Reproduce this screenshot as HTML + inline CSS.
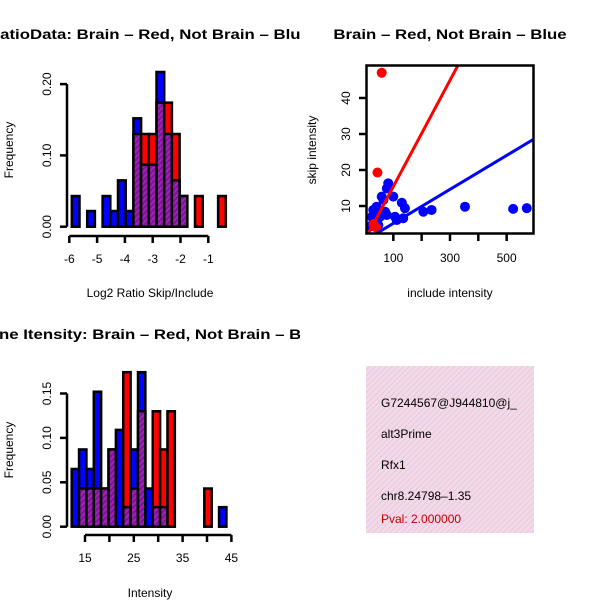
<!DOCTYPE html>
<html><head><meta charset="utf-8"><style>body{margin:0;background:#fff}svg{display:block;font-family:"Liberation Sans",sans-serif}</style></head>
<body>
<svg id="c" width="600" height="600" xmlns="http://www.w3.org/2000/svg">
<defs>
<pattern id="hp" width="4" height="4" patternUnits="userSpaceOnUse" patternTransform="rotate(45)"><rect width="4" height="4" fill="#a022b8"/><rect width="2" height="4" fill="#7a1690"/></pattern>
<pattern id="pk" width="4" height="4" patternUnits="userSpaceOnUse" patternTransform="rotate(45)"><rect width="4" height="4" fill="#f7d6f0"/><rect width="1" height="4" fill="#dcd2c8"/></pattern>
<clipPath id="sc"><rect x="366" y="65" width="167" height="168"/></clipPath>
<clipPath id="lc"><rect x="0" y="0" width="300" height="600"/></clipPath>
</defs>
<g id="g"></g>
</svg>
<script>
// Histogram 1 (log2 ratio)
const h1BinStart = -5.91, h1BinWidth = 0.277;
const h1Blue = [0.043,0,0.022,0,0.043,0.022,0.065,0.022,0.152,0.087,0.087,0.217,0.13,0.065,0.043,0,0,0,0,0];
const h1Red  = [0,0,0,0,0,0,0,0,0.13,0.13,0.13,0.174,0.174,0.13,0.043,0,0.043,0,0,0.043];
const h1XTicks = [-6,-5,-4,-3,-2,-1];
const h1YTicks = [0,0.1,0.2];
const h1YLabels = ["0.00","0.10","0.20"];
// Histogram 2 (intensity)
const h2BinStart = 12.27, h2BinWidth = 1.51;
const h2Blue = [0.065,0.087,0.065,0.152,0.043,0.087,0.109,0.022,0.087,0.174,0.043,0.022,0.022,0,0,0,0,0,0,0,0.022];
const h2Red  = [0,0.043,0.043,0.043,0.043,0.087,0,0.174,0.043,0.13,0,0.13,0.087,0.13,0,0,0,0,0.043,0,0];
const h2XTicks = [15,20,25,30,35,40,45];
const h2XLabels = ["15","","25","","35","","45"];
const h2YTicks = [0,0.05,0.1,0.15];
const h2YLabels = ["0.00","0.05","0.10","0.15"];
// Scatter
const blueInclude = [82,77,59,65,100,130,141,206,235,353,523,571,29,35,41,24,53,77,106,135,112,29,47,71,18];
const blueSkip    = [16.3,14.9,12.6,11.7,12.6,10.9,9.4,8.4,8.9,9.8,9.2,9.4,8.9,8.0,9.8,7.0,7.0,7.5,7.0,6.6,6.1,5.2,4.7,8.4,4.3];
const redInclude = [59,44,30,40];
const redSkip    = [47,19.3,5,4];
const lineIntercept = [0.64,0.45];
const lineSlope = [0.1476,0.0472];
const scXTicks = [100,200,300,400,500];
const scXLabels = ["100","","300","","500"];
const scYTicks = [10,20,30,40];

const NS="http://www.w3.org/2000/svg", G=document.getElementById('g');
function el(t,a,p){const e=document.createElementNS(NS,t);for(const k in a)e.setAttribute(k,a[k]);(p||G).appendChild(e);return e;}
function txt(s,a,p){const e=el('text',a,p);e.textContent=s;return e;}

function hist(blue,red,start,w,sx,sy,base,name){
  const g=el('g',{});
  
  
  for(let i=0;i<blue.length;i++){
    const b=blue[i],r=red[i];if(!b&&!r)continue;
    const x0=sx(start+i*w),x1=sx(start+(i+1)*w);
    const hi=Math.max(b,r),lo=Math.min(b,r);
    const rc=el('rect',{x:x0,y:sy(hi),width:x1-x0,height:base-sy(hi),fill:b>=r?'#0000ff':'#ff0000',stroke:'#000','stroke-width':2.5},g);
    
    
    if(lo>0){
      const p=el('rect',{x:x0,y:sy(lo),width:x1-x0,height:base-sy(lo),fill:'url(#hp)',stroke:'#000','stroke-width':2.5},g);
      
      
    }
  }
}
function yaxis(x,ticks,labels,sy){
  el('line',{x1:x,x2:x,y1:sy(ticks[0]),y2:sy(ticks[ticks.length-1]),stroke:'#000','stroke-width':2.5});
  ticks.forEach((t,i)=>{const y=sy(t);el('line',{x1:x-7,x2:x,y1:y,y2:y,stroke:'#000','stroke-width':2.5});
    const tt=txt(labels[i],{x:x-19,y:y,'font-size':12,'text-anchor':'middle',transform:`rotate(-90 ${x-19} ${y})`,'dominant-baseline':'middle'});
    
    });
}
function xaxis(y,ticks,labels,sx){
  el('line',{x1:sx(ticks[0]),x2:sx(ticks[ticks.length-1]),y1:y,y2:y,stroke:'#000','stroke-width':2.5});
  ticks.forEach((t,i)=>{const x=sx(t);el('line',{x1:x,x2:x,y1:y,y2:y+7,stroke:'#000','stroke-width':2.5});
    const tt=txt(labels[i],{x:x,y:y+27,'font-size':12,'text-anchor':'middle'});
    
    });
}
function label(s,a,name,p){const t=txt(s,a,p);}
const tg=el('g',{'clip-path':'url(#lc)'});

// Hist 1
const s1x=v=>69.3+(v+6)*27.8, s1y=v=>226.7-v*713;
hist(h1Blue,h1Red,h1BinStart,h1BinWidth,s1x,s1y,226.7,'ratio-histogram');
yaxis(67,h1YTicks,h1YLabels,s1y);
xaxis(236,h1XTicks,h1XTicks.map(String),s1x);
label('RatioData: Brain – Red, Not Brain – Blue',{x:0,y:0,'font-size':14,'font-weight':'bold',transform:'translate(-12 39) scale(1.2 1)'},'ratio-title',tg);
label('Log2 Ratio Skip/Include',{x:150,y:297,'font-size':12,'text-anchor':'middle'},'ratio-x-title');
label('Frequency',{x:13,y:150,'font-size':12,'text-anchor':'middle',transform:'rotate(-90 13 150)'},'ratio-y-title');

// Hist 2
const s2x=v=>85+(v-15)*4.88, s2y=v=>526.7-v*888;
hist(h2Blue,h2Red,h2BinStart,h2BinWidth,s2x,s2y,526.7,'intensity-histogram');
yaxis(67,h2YTicks,h2YLabels,s2y);
xaxis(535,h2XTicks,h2XLabels,s2x);
label('ne Itensity: Brain – Red, Not Brain – Blue',{x:0,y:0,'font-size':14,'font-weight':'bold',transform:'translate(-1 339) scale(1.2 1)'},'intensity-title',tg);
label('Intensity',{x:150,y:597,'font-size':12,'text-anchor':'middle'},'intensity-x-title');
label('Frequency',{x:13,y:450,'font-size':12,'text-anchor':'middle',transform:'rotate(-90 13 450)'},'intensity-y-title');

// Scatter
const scx=v=>365+v*0.2833, scy=v=>242-v*3.6;
const cg=el('g',{'clip-path':'url(#sc)'});


blueInclude.forEach((v,i)=>{const c=el('circle',{cx:scx(v),cy:scy(blueSkip[i]),r:5,fill:'#0000ff'},cg);
  
  });
redInclude.forEach((v,i)=>{const c=el('circle',{cx:scx(v),cy:scy(redSkip[i]),r:5,fill:'#ff0000'},cg);
  
  });
['#ff0000','#0000ff'].forEach((col,i)=>{const x0=0,x1=620;
  const l=el('line',{x1:scx(x0),y1:scy(lineIntercept[i]+lineSlope[i]*x0),x2:scx(x1),y2:scy(lineIntercept[i]+lineSlope[i]*x1),stroke:col,'stroke-width':3},cg);
  
  });
el('rect',{x:366.5,y:65.5,width:167,height:168,fill:'none',stroke:'#000','stroke-width':2.5});
scYTicks.forEach(t=>{const y=scy(t);el('line',{x1:359,x2:366,y1:y,y2:y,stroke:'#000','stroke-width':2.5});
  label(String(t),{x:347,y:y,'font-size':12,'text-anchor':'middle','dominant-baseline':'middle',transform:`rotate(-90 347 ${y})`},'scatter-y-tick');});
scXTicks.forEach((t,i)=>{const x=scx(t);el('line',{x1:x,x2:x,y1:234,y2:241,stroke:'#000','stroke-width':2.5});
  label(scXLabels[i],{x:x,y:262,'font-size':12,'text-anchor':'middle'},'scatter-x-tick');});
label('Brain – Red, Not Brain – Blue',{x:0,y:0,'font-size':14,'font-weight':'bold','text-anchor':'middle',transform:'translate(450 39) scale(1.2 1)'},'scatter-title');
label('include intensity',{x:450,y:297,'font-size':12,'text-anchor':'middle'},'scatter-x-title');
label('skip intensity',{x:316,y:150,'font-size':12,'text-anchor':'middle',transform:'rotate(-90 316 150)'},'scatter-y-title');

// Info box
const box=el('rect',{x:366,y:366,width:168,height:167,fill:'url(#pk)'});


const svg=document.getElementById('c');
const cp=el('clipPath',{id:'bc'},svg.querySelector('defs'));el('rect',{x:366,y:366,width:168,height:167},cp);
const ig=el('g',{'clip-path':'url(#bc)'});
[['G7244567@J944810@j_','#000',407,'gene-id'],['alt3Prime','#000',438,'event-type'],['Rfx1','#000',469,'gene-name'],['chr8.24798–1.35','#000',500,'location'],['Pval: 2.000000','#c00000',523,'p-value']].forEach(r=>{
  const t=el('text',{x:381,y:r[2],'font-size':12,fill:r[1]},ig);t.textContent=r[0];
  
  });
</script>
</body></html>
